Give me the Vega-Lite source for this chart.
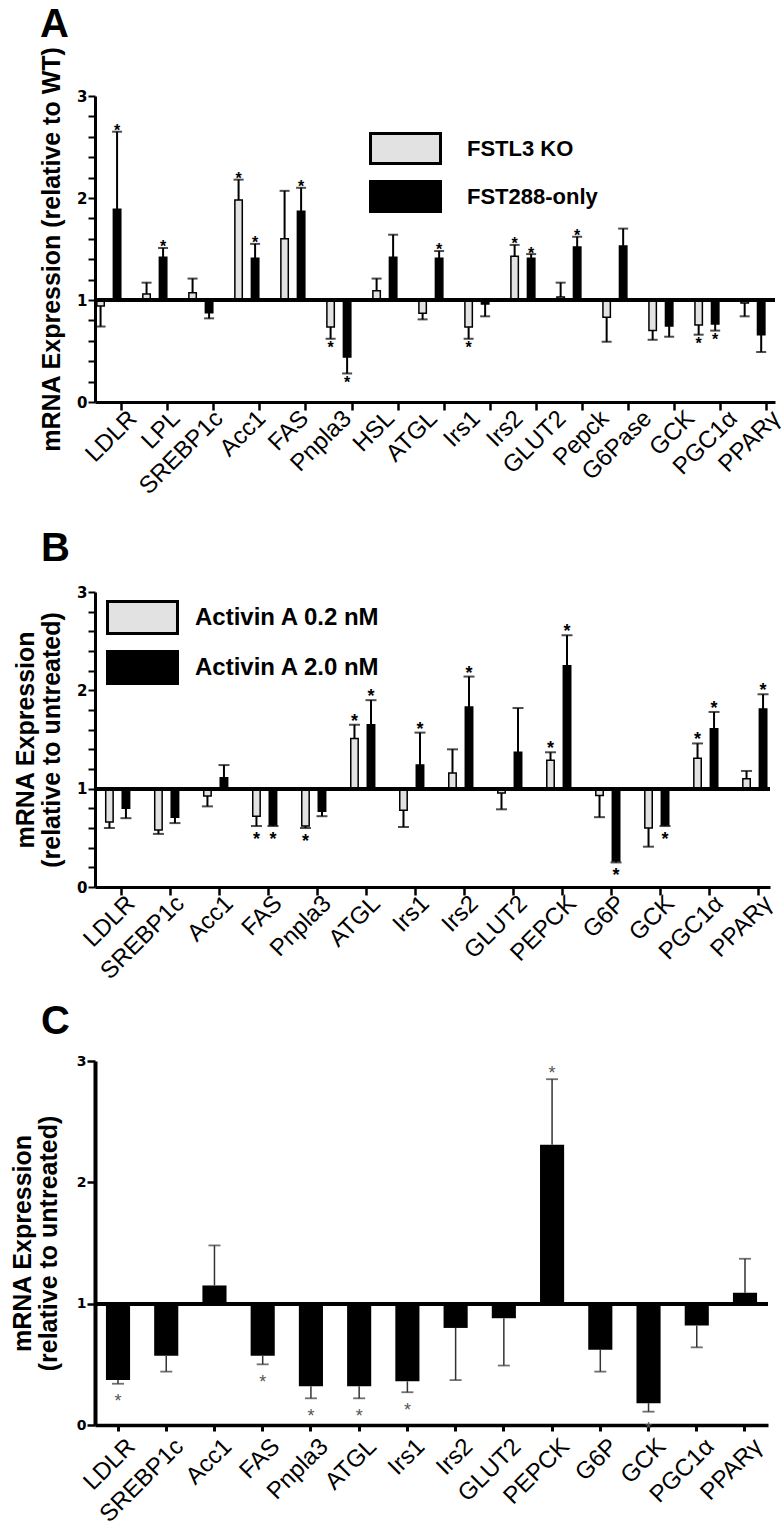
{
  "$schema": "https://vega.github.io/schema/vega-lite/v6.json",
  "padding": {"left": 10, "top": 5, "right": 0, "bottom": 0},
  "background": "white",
  "config": {
    "view": {"stroke": null},
    "font": "Liberation Sans",
    "axis": {"grid": false, "domainColor": "black", "tickColor": "black", "labelColor": "black", "titleColor": "black"}
  },
  "spacing": 18,
  "resolve": {"scale": {"fill": "independent"}, "legend": {"fill": "independent"}},
  "datasets": {
    "a": [
      {"gene": "LDLR", "grp": "FSTL3 KO", "value": 0.94, "err": 0.74, "sig": false},
      {"gene": "LDLR", "grp": "FST288-only", "value": 1.89, "err": 2.65, "sig": true},
      {"gene": "LPL", "grp": "FSTL3 KO", "value": 1.06, "err": 1.17, "sig": false},
      {"gene": "LPL", "grp": "FST288-only", "value": 1.42, "err": 1.51, "sig": true},
      {"gene": "SREBP1c", "grp": "FSTL3 KO", "value": 1.07, "err": 1.21, "sig": false},
      {"gene": "SREBP1c", "grp": "FST288-only", "value": 0.875, "err": 0.82, "sig": false},
      {"gene": "Acc1", "grp": "FSTL3 KO", "value": 1.98, "err": 2.18, "sig": true},
      {"gene": "Acc1", "grp": "FST288-only", "value": 1.41, "err": 1.55, "sig": true},
      {"gene": "FAS", "grp": "FSTL3 KO", "value": 1.6, "err": 2.07, "sig": false},
      {"gene": "FAS", "grp": "FST288-only", "value": 1.87, "err": 2.1, "sig": true},
      {"gene": "Pnpla3", "grp": "FSTL3 KO", "value": 0.735, "err": 0.62, "sig": true},
      {"gene": "Pnpla3", "grp": "FST288-only", "value": 0.44, "err": 0.28, "sig": true},
      {"gene": "HSL", "grp": "FSTL3 KO", "value": 1.09, "err": 1.21, "sig": false},
      {"gene": "HSL", "grp": "FST288-only", "value": 1.42, "err": 1.64, "sig": false},
      {"gene": "ATGL", "grp": "FSTL3 KO", "value": 0.87, "err": 0.81, "sig": false},
      {"gene": "ATGL", "grp": "FST288-only", "value": 1.41, "err": 1.48, "sig": true},
      {"gene": "Irs1", "grp": "FSTL3 KO", "value": 0.735, "err": 0.62, "sig": true},
      {"gene": "Irs1", "grp": "FST288-only", "value": 0.96, "err": 0.84, "sig": false},
      {"gene": "Irs2", "grp": "FSTL3 KO", "value": 1.43, "err": 1.54, "sig": true},
      {"gene": "Irs2", "grp": "FST288-only", "value": 1.41, "err": 1.45, "sig": true},
      {"gene": "Pepck", "grp": "FSTL3 KO", "value": 1.03, "err": 1.17, "sig": false},
      {"gene": "Pepck", "grp": "FST288-only", "value": 1.52, "err": 1.62, "sig": true},
      {"gene": "G6Pase", "grp": "FSTL3 KO", "value": 0.83, "err": 0.59, "sig": false},
      {"gene": "G6Pase", "grp": "FST288-only", "value": 1.53, "err": 1.7, "sig": false},
      {"gene": "GCK", "grp": "FSTL3 KO", "value": 0.7, "err": 0.61, "sig": false},
      {"gene": "GCK", "grp": "FST288-only", "value": 0.745, "err": 0.64, "sig": false},
      {"gene": "PGC1α", "grp": "FSTL3 KO", "value": 0.755, "err": 0.66, "sig": true},
      {"gene": "PGC1α", "grp": "FST288-only", "value": 0.765, "err": 0.7, "sig": true},
      {"gene": "PPARγ", "grp": "FSTL3 KO", "value": 0.97, "err": 0.84, "sig": false},
      {"gene": "PPARγ", "grp": "FST288-only", "value": 0.66, "err": 0.49, "sig": false}
    ],
    "aLabels": [
      {"label": "LDLR"}, {"label": "LPL"}, {"label": "SREBP1c"}, {"label": "Acc1"},
      {"label": "FAS"}, {"label": "Pnpla3"}, {"label": "HSL"}, {"label": "ATGL"},
      {"label": "Irs1"}, {"label": "Irs2"}, {"label": "GLUT2"}, {"label": "Pepck"},
      {"label": "G6Pase"}, {"label": "GCK"}, {"label": "PGC1α"}, {"label": "PPARγ"}
    ],
    "b": [
      {"gene": "LDLR", "grp": "Activin A 0.2 nM", "value": 0.66, "err": 0.6, "sig": false},
      {"gene": "LDLR", "grp": "Activin A 2.0 nM", "value": 0.8, "err": 0.7, "sig": false},
      {"gene": "SREBP1c", "grp": "Activin A 0.2 nM", "value": 0.58, "err": 0.54, "sig": false},
      {"gene": "SREBP1c", "grp": "Activin A 2.0 nM", "value": 0.71, "err": 0.65, "sig": false},
      {"gene": "Acc1", "grp": "Activin A 0.2 nM", "value": 0.925, "err": 0.82, "sig": false},
      {"gene": "Acc1", "grp": "Activin A 2.0 nM", "value": 1.11, "err": 1.24, "sig": false},
      {"gene": "FAS", "grp": "Activin A 0.2 nM", "value": 0.72, "err": 0.62, "sig": true},
      {"gene": "FAS", "grp": "Activin A 2.0 nM", "value": 0.63, "err": 0.62, "sig": true},
      {"gene": "Pnpla3", "grp": "Activin A 0.2 nM", "value": 0.62, "err": 0.6, "sig": true},
      {"gene": "Pnpla3", "grp": "Activin A 2.0 nM", "value": 0.77, "err": 0.72, "sig": false},
      {"gene": "ATGL", "grp": "Activin A 0.2 nM", "value": 1.51, "err": 1.65, "sig": true},
      {"gene": "ATGL", "grp": "Activin A 2.0 nM", "value": 1.65, "err": 1.9, "sig": true},
      {"gene": "Irs1", "grp": "Activin A 0.2 nM", "value": 0.78, "err": 0.61, "sig": false},
      {"gene": "Irs1", "grp": "Activin A 2.0 nM", "value": 1.24, "err": 1.57, "sig": true},
      {"gene": "Irs2", "grp": "Activin A 0.2 nM", "value": 1.16, "err": 1.4, "sig": false},
      {"gene": "Irs2", "grp": "Activin A 2.0 nM", "value": 1.83, "err": 2.14, "sig": true},
      {"gene": "GLUT2", "grp": "Activin A 0.2 nM", "value": 0.955, "err": 0.79, "sig": false},
      {"gene": "GLUT2", "grp": "Activin A 2.0 nM", "value": 1.37, "err": 1.82, "sig": false},
      {"gene": "PEPCK", "grp": "Activin A 0.2 nM", "value": 1.29, "err": 1.37, "sig": true},
      {"gene": "PEPCK", "grp": "Activin A 2.0 nM", "value": 2.25, "err": 2.56, "sig": true},
      {"gene": "G6P", "grp": "Activin A 0.2 nM", "value": 0.93, "err": 0.71, "sig": false},
      {"gene": "G6P", "grp": "Activin A 2.0 nM", "value": 0.265, "err": 0.25, "sig": true},
      {"gene": "GCK", "grp": "Activin A 0.2 nM", "value": 0.6, "err": 0.41, "sig": false},
      {"gene": "GCK", "grp": "Activin A 2.0 nM", "value": 0.63, "err": 0.62, "sig": true},
      {"gene": "PGC1α", "grp": "Activin A 0.2 nM", "value": 1.31, "err": 1.46, "sig": true},
      {"gene": "PGC1α", "grp": "Activin A 2.0 nM", "value": 1.61, "err": 1.78, "sig": true},
      {"gene": "PPARγ", "grp": "Activin A 0.2 nM", "value": 1.1, "err": 1.18, "sig": false},
      {"gene": "PPARγ", "grp": "Activin A 2.0 nM", "value": 1.81, "err": 1.96, "sig": true}
    ],
    "c": [
      {"gene": "LDLR", "value": 0.37, "err": 0.34, "sig": true},
      {"gene": "SREBP1c", "value": 0.57, "err": 0.44, "sig": false},
      {"gene": "Acc1", "value": 1.15, "err": 1.48, "sig": false},
      {"gene": "FAS", "value": 0.57, "err": 0.5, "sig": true},
      {"gene": "Pnpla3", "value": 0.32, "err": 0.22, "sig": true},
      {"gene": "ATGL", "value": 0.32, "err": 0.22, "sig": true},
      {"gene": "Irs1", "value": 0.36, "err": 0.27, "sig": true},
      {"gene": "Irs2", "value": 0.8, "err": 0.37, "sig": false},
      {"gene": "GLUT2", "value": 0.88, "err": 0.49, "sig": false},
      {"gene": "PEPCK", "value": 2.31, "err": 2.85, "sig": true},
      {"gene": "G6P", "value": 0.62, "err": 0.44, "sig": false},
      {"gene": "GCK", "value": 0.18, "err": 0.11, "sig": true},
      {"gene": "PGC1α", "value": 0.82, "err": 0.64, "sig": false},
      {"gene": "PPARγ", "value": 1.09, "err": 1.37, "sig": false}
    ]
  },
  "vconcat": [
    {
      "width": 680,
      "height": 306,
      "title": {"text": "A", "anchor": "start", "frame": "group", "dx": -55, "fontSize": 40, "font": "Liberation Sans", "fontWeight": "bold", "offset": 1},
      "resolve": {"scale": {"x": "independent", "y": "independent"}, "axis": {"x": "independent", "y": "independent"}},
      "layer": [
        {
          "data": {"name": "a"},
          "layer": [
            {
              "mark": {"type": "bar", "stroke": "black", "strokeWidth": 1.5},
              "encoding": {
                "x": {"field": "gene", "type": "nominal", "sort": null,
                  "scale": {"paddingInner": 0.3, "paddingOuter": 0.04},
                  "axis": {"orient": "bottom", "title": null, "labels": false, "ticks": true, "tickSize": 8, "tickWidth": 2.5, "domainWidth": 3, "bandPosition": 0.78}},
                "xOffset": {"field": "grp", "type": "nominal", "sort": ["FSTL3 KO", "FST288-only"], "scale": {"paddingInner": 0.1, "paddingOuter": 0}},
                "y": {"field": "value", "type": "quantitative", "scale": {"domain": [0, 3], "nice": false},
                  "axis": {"orient": "left", "values": [0, 1, 2, 3], "format": "d", "labelOverlap": false,
                    "tickSize": 7, "tickWidth": 2, "domainWidth": 3,
                    "labelFont": "DejaVu Sans", "labelFontWeight": "bold", "labelFontSize": 15, "labelPadding": 1,
                    "title": "mRNA Expression (relative to WT)", "titleFont": "Liberation Sans", "titleFontSize": 25, "titleFontWeight": "bold", "titlePadding": 12}},
                "y2": {"datum": 1},
                "fill": {"field": "grp", "type": "nominal",
                  "scale": {"domain": ["FSTL3 KO", "FST288-only"], "range": ["#e2e2e2", "black"]},
                  "legend": {"orient": "none", "legendX": 293, "legendY": 35, "title": null, "padding": 0,
                    "symbolType": "M-2.2,-0.95H2.2V0.95H-2.2Z", "symbolSize": 1012, "symbolStrokeWidth": 3, "symbolStrokeColor": "black",
                    "labelFont": "Liberation Sans", "labelFontSize": 22, "labelFontWeight": "bold", "labelOffset": 44, "labelLimit": 0, "rowPadding": 5}}
              }
            },
            {
              "mark": {"type": "rule", "strokeWidth": 2, "color": "black"},
              "encoding": {
                "x": {"field": "gene", "type": "nominal", "sort": null},
                "xOffset": {"field": "grp", "type": "nominal", "sort": ["FSTL3 KO", "FST288-only"]},
                "y": {"field": "value", "type": "quantitative"},
                "y2": {"field": "err"}
              }
            },
            {
              "mark": {"type": "tick", "orient": "horizontal", "size": 10, "thickness": 2, "color": "black"},
              "encoding": {
                "x": {"field": "gene", "type": "nominal", "sort": null},
                "xOffset": {"field": "grp", "type": "nominal", "sort": ["FSTL3 KO", "FST288-only"]},
                "y": {"field": "err", "type": "quantitative"}
              }
            },
            {
              "transform": [{"filter": "datum.sig && datum.value > 1"}],
              "mark": {"type": "text", "text": "*", "fontSize": 16, "font": "Liberation Sans", "fontWeight": "bold", "baseline": "alphabetic", "dy": 4.4, "color": "black"},
              "encoding": {
                "x": {"field": "gene", "type": "nominal", "sort": null},
                "xOffset": {"field": "grp", "type": "nominal", "sort": ["FSTL3 KO", "FST288-only"]},
                "y": {"field": "err", "type": "quantitative"}
              }
            },
            {
              "transform": [{"filter": "datum.sig && datum.value < 1"}],
              "mark": {"type": "text", "text": "*", "fontSize": 16, "font": "Liberation Sans", "fontWeight": "bold", "baseline": "alphabetic", "dy": 14.4, "color": "black"},
              "encoding": {
                "x": {"field": "gene", "type": "nominal", "sort": null},
                "xOffset": {"field": "grp", "type": "nominal", "sort": ["FSTL3 KO", "FST288-only"]},
                "y": {"field": "err", "type": "quantitative"}
              }
            },
            {
              "mark": {"type": "rule", "strokeWidth": 3, "color": "black"},
              "encoding": {"y": {"datum": 1}}
            }
          ]
        },
        {
          "data": {"name": "aLabels"},
          "mark": {"type": "point", "opacity": 0},
          "encoding": {
            "x": {"field": "label", "type": "nominal", "sort": null,
              "scale": {"range": [0, 686], "paddingInner": 0, "paddingOuter": 0},
              "axis": {"orient": "bottom", "title": " ", "titleFontSize": 1, "titlePadding": 11, "ticks": false, "tickSize": 0, "domain": false, "labelAngle": -45,
                "labelFont": "Liberation Sans", "labelFontSize": 24, "labelOffset": 8, "labelPadding": 4,
                "labelOverlap": false, "labelBound": false}},
            "y": {"datum": 0, "type": "quantitative", "scale": {"domain": [0, 3], "nice": false},
              "axis": {"orient": "left", "values": [0.2, 0.4, 0.6, 0.8, 1.2, 1.4, 1.6, 1.8, 2.2, 2.4, 2.6, 2.8],
                "labels": false, "domain": false, "tickSize": 7, "tickWidth": 2, "title": null}}
          }
        }
      ]
    },
    {
      "width": 675,
      "height": 295,
      "title": {"text": "B", "anchor": "start", "frame": "group", "dx": -54, "fontSize": 40, "font": "Liberation Sans", "fontWeight": "bold", "offset": 16},
      "resolve": {"scale": {"y": "independent"}, "axis": {"y": "independent"}},
      "layer": [
        {
          "data": {"name": "b"},
          "layer": [
            {
              "mark": {"type": "bar", "stroke": "black", "strokeWidth": 1.5},
              "encoding": {
                "x": {"field": "gene", "type": "nominal", "sort": null,
                  "scale": {"paddingInner": 0.327, "paddingOuter": 0.05},
                  "axis": {"title": null, "labelAngle": -45, "labelFont": "Liberation Sans", "labelFontSize": 24, "labelOffset": 9, "labelPadding": -4,
                    "tickSize": 8, "tickWidth": 2.5, "domainWidth": 3, "bandPosition": 0.74, "labelOverlap": false, "labelBound": false}},
                "xOffset": {"field": "grp", "type": "nominal", "sort": ["Activin A 0.2 nM", "Activin A 2.0 nM"], "scale": {"paddingInner": 0.1, "paddingOuter": 0}},
                "y": {"field": "value", "type": "quantitative", "scale": {"domain": [0, 3], "nice": false},
                  "axis": {"orient": "left", "values": [0, 1, 2, 3], "format": "d", "labelOverlap": false,
                    "tickSize": 7, "tickWidth": 2, "domainWidth": 3,
                    "labelFont": "DejaVu Sans", "labelFontWeight": "bold", "labelFontSize": 15, "labelPadding": 1,
                    "title": ["mRNA Expression", "(relative to untreated)"], "titleFont": "Liberation Sans", "titleFontSize": 25, "titleFontWeight": "bold", "titlePadding": 12, "titleLineHeight": 26}},
                "y2": {"datum": 1},
                "fill": {"field": "grp", "type": "nominal",
                  "scale": {"domain": ["Activin A 0.2 nM", "Activin A 2.0 nM"], "range": ["#e2e2e2", "black"]},
                  "legend": {"orient": "none", "legendX": 30, "legendY": 8, "title": null, "padding": 0,
                    "symbolType": "M-2.2,-1H2.2V1H-2.2Z", "symbolSize": 1012, "symbolStrokeWidth": 3, "symbolStrokeColor": "black",
                    "labelFont": "Liberation Sans", "labelFontSize": 24, "labelFontWeight": "bold", "labelOffset": 35, "labelLimit": 0, "rowPadding": 5}}
              }
            },
            {
              "mark": {"type": "rule", "strokeWidth": 2, "color": "black"},
              "encoding": {
                "x": {"field": "gene", "type": "nominal", "sort": null},
                "xOffset": {"field": "grp", "type": "nominal", "sort": ["Activin A 0.2 nM", "Activin A 2.0 nM"]},
                "y": {"field": "value", "type": "quantitative"},
                "y2": {"field": "err"}
              }
            },
            {
              "mark": {"type": "tick", "orient": "horizontal", "size": 11, "thickness": 2, "color": "black"},
              "encoding": {
                "x": {"field": "gene", "type": "nominal", "sort": null},
                "xOffset": {"field": "grp", "type": "nominal", "sort": ["Activin A 0.2 nM", "Activin A 2.0 nM"]},
                "y": {"field": "err", "type": "quantitative"}
              }
            },
            {
              "transform": [{"filter": "datum.sig && datum.value > 1"}],
              "mark": {"type": "text", "text": "*", "fontSize": 18, "font": "Liberation Sans", "fontWeight": "bold", "baseline": "alphabetic", "dy": 2, "color": "black"},
              "encoding": {
                "x": {"field": "gene", "type": "nominal", "sort": null},
                "xOffset": {"field": "grp", "type": "nominal", "sort": ["Activin A 0.2 nM", "Activin A 2.0 nM"]},
                "y": {"field": "err", "type": "quantitative"}
              }
            },
            {
              "transform": [{"filter": "datum.sig && datum.value < 1"}],
              "mark": {"type": "text", "text": "*", "fontSize": 18, "font": "Liberation Sans", "fontWeight": "bold", "baseline": "alphabetic", "dy": 18.5, "color": "black"},
              "encoding": {
                "x": {"field": "gene", "type": "nominal", "sort": null},
                "xOffset": {"field": "grp", "type": "nominal", "sort": ["Activin A 0.2 nM", "Activin A 2.0 nM"]},
                "y": {"field": "err", "type": "quantitative"}
              }
            },
            {
              "mark": {"type": "rule", "strokeWidth": 3, "color": "black"},
              "encoding": {"y": {"datum": 1}}
            }
          ]
        },
        {
          "data": {"values": [{"m": 0}]},
          "mark": {"type": "point", "opacity": 0},
          "encoding": {
            "y": {"datum": 0, "type": "quantitative", "scale": {"domain": [0, 3], "nice": false},
              "axis": {"orient": "left", "values": [0.2, 0.4, 0.6, 0.8, 1.2, 1.4, 1.6, 1.8, 2.2, 2.4, 2.6, 2.8],
                "labels": false, "domain": false, "tickSize": 7, "tickWidth": 2, "title": null}}
          }
        }
      ]
    },
    {
      "width": 673,
      "height": 364,
      "title": {"text": "C", "anchor": "start", "frame": "group", "dx": -54, "fontSize": 40, "font": "Liberation Sans", "fontWeight": "bold", "offset": 12},
      "data": {"name": "c"},
      "layer": [
        {
          "mark": {"type": "bar", "color": "black"},
          "encoding": {
            "x": {"field": "gene", "type": "nominal", "sort": null,
              "scale": {"paddingInner": 0.5, "paddingOuter": 0.227},
              "axis": {"title": null, "labelAngle": -45, "labelFont": "Liberation Sans", "labelFontSize": 24, "labelOffset": 5, "labelPadding": 3,
                "tickSize": 6, "tickWidth": 3, "domainWidth": 3.5, "labelOverlap": false, "labelBound": false}},
            "y": {"field": "value", "type": "quantitative", "scale": {"domain": [0, 3], "nice": false},
              "axis": {"values": [0, 1, 2, 3], "format": "d", "labelOverlap": false,
                "tickSize": 8, "tickWidth": 2.5, "domainWidth": 4,
                "labelFont": "DejaVu Sans", "labelFontWeight": "bold", "labelFontSize": 14, "labelPadding": 1,
                "title": ["mRNA Expression", "(relative to untreated)"], "titleFont": "Liberation Sans", "titleFontSize": 25, "titleFontWeight": "bold", "titlePadding": 15, "titleLineHeight": 26}},
            "y2": {"datum": 1}
          }
        },
        {
          "mark": {"type": "rule", "strokeWidth": 1.5, "color": "#333333"},
          "encoding": {
            "x": {"field": "gene", "type": "nominal", "sort": null},
            "y": {"field": "value", "type": "quantitative"},
            "y2": {"field": "err"}
          }
        },
        {
          "mark": {"type": "tick", "orient": "horizontal", "size": 12, "thickness": 1.8, "color": "#333333"},
          "encoding": {
            "x": {"field": "gene", "type": "nominal", "sort": null},
            "y": {"field": "err", "type": "quantitative"}
          }
        },
        {
          "transform": [{"filter": "datum.sig && datum.value > 1"}],
          "mark": {"type": "text", "text": "*", "fontSize": 18, "font": "Liberation Sans", "baseline": "alphabetic", "dy": -0.5, "color": "#555555"},
          "encoding": {
            "x": {"field": "gene", "type": "nominal", "sort": null},
            "y": {"field": "err", "type": "quantitative"}
          }
        },
        {
          "transform": [{"filter": "datum.sig && datum.value < 1"}],
          "mark": {"type": "text", "text": "*", "fontSize": 18, "font": "Liberation Sans", "baseline": "alphabetic", "dy": 23.5, "color": "#555555"},
          "encoding": {
            "x": {"field": "gene", "type": "nominal", "sort": null},
            "y": {"field": "err", "type": "quantitative"}
          }
        },
        {
          "mark": {"type": "rule", "strokeWidth": 3, "color": "black"},
          "encoding": {"y": {"datum": 1}}
        }
      ]
    }
  ]
}
